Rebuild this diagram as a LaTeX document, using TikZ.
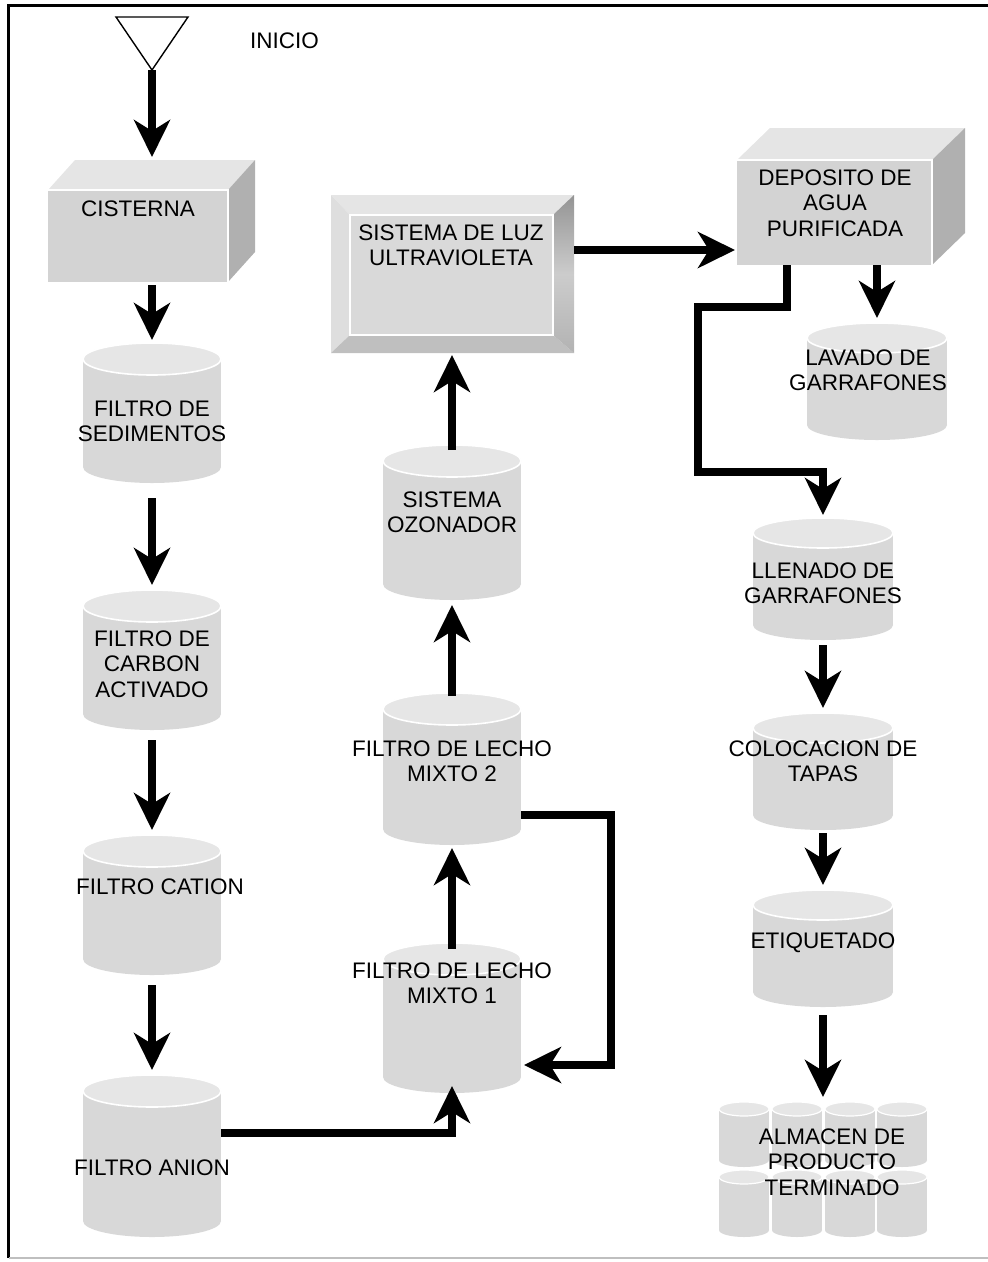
\documentclass[tikz,border=0pt]{standalone}
\usepackage{fontspec}
\setmainfont{Liberation Sans}
\usetikzlibrary{arrows.meta,calc}

\definecolor{tankbody}{HTML}{D8D8D8}
\definecolor{tanklid}{HTML}{E6E6E6}
\definecolor{boxfront}{HTML}{D3D3D3}
\definecolor{boxtop}{HTML}{E5E5E5}
\definecolor{boxside}{HTML}{B0B0B0}

\tikzset{
  flow/.style={line width=7.5pt, shorten >=3pt,
    -{Stealth[length=37pt,width=36pt,inset=11pt]}},
  hit/.style={inner sep=0pt, outer sep=0pt, draw=none},
  lbl/.style={align=center, inner sep=0pt,
    font=\fontsize{22.5}{25.5}\selectfont},
  bodyfill/.style={fill=tankbody},
  lidfill/.style={fill=tanklid, draw=white, line width=1.6pt},
}

% tank: name, centre x, top y, bottom y, half width, half height of the lid
\newcommand\tank[6]{%
  \fill[bodyfill] ({#2-#5},{#3+#6}) rectangle ({#2+#5},{#4-#6});
  \fill[bodyfill] (#2,{#4-#6}) ellipse [x radius=#5pt, y radius=#6pt];
  \filldraw[lidfill] (#2,{#3+#6}) ellipse [x radius=#5pt, y radius=#6pt];
  \pgfmathsetmacro\tankh{#4-#3}%
  \pgfmathsetmacro\tankw{2*#5}%
  \node[hit, minimum width=\tankw pt, minimum height=\tankh pt]
    (#1) at (#2,{(#3+#4)/2}) {};
}
% small tank without a node, for the stock of finished product
\newcommand\minitank[4]{%
  \fill[bodyfill] ({#1-#4},{#2+7}) rectangle ({#1+#4},{#3-7});
  \fill[bodyfill] (#1,{#3-7}) ellipse [x radius=#4pt, y radius=7pt];
  \filldraw[lidfill, line width=1.2pt] (#1,{#2+7}) ellipse [x radius=#4pt, y radius=7pt];
}
% block: front face x1 y1 x2 y2, depth dx dy
\newcommand\block[6]{%
  \fill[boxfront] (#1,#2) rectangle (#3,#4);
  \fill[boxtop] (#1,#2) -- ++(#5,-#6) -- ({#3+#5},{#2-#6}) -- (#3,#2) -- cycle;
  \fill[boxside] (#3,#2) -- ++(#5,-#6) -- ({#3+#5},{#4-#6}) -- (#3,#4) -- cycle;
  \draw[white, line width=1.4pt] (#1,#2) -- (#3,#2) -- (#3,#4);
}

\begin{document}
\begin{tikzpicture}[x=1pt, y=-1pt]
\useasboundingbox (0,0) rectangle (988,1262);

% frame
\draw[line width=3pt] (988,5) -- (8,5) -- (8,1258);
\draw[black!25, line width=1.5pt] (9,1258) -- (988,1258);

% start symbol
\draw[line width=1.4pt, line join=miter] (116,17) -- (188,17) -- (152,70) -- cycle;
\coordinate (start) at (152,70);
\node[lbl, anchor=west] (inicio) at (250,41) {INICIO};

% storage tank block
\block{48}{190}{228}{282}{27}{30}
\node[hit, minimum width=208pt, minimum height=122pt] (cis) at (152,221) {};
\node[lbl] (cis-t) at (138,209) {CISTERNA};

% left column of filters
\tank{sed}{152}{343}{483}{69}{16}
\node[lbl] (sed-t) at (152,421) {FILTRO DE\\SEDIMENTOS};
\tank{car}{152}{590}{730}{69}{16}
\node[lbl] (car-t) at (152,664) {FILTRO DE\\CARBON\\ACTIVADO};
\tank{cat}{152}{835}{975}{69}{16}
\node[lbl] (cat-t) at (160,887) {FILTRO CATION};
\tank{ani}{152}{1075}{1237}{69}{16}
\node[lbl] (ani-t) at (152,1168) {FILTRO ANION};

% middle column
\tank{mx1}{452}{943}{1093}{69}{16}
\node[lbl] (mx1-t) at (452,983) {FILTRO DE LECHO\\MIXTO 1};
\tank{mx2}{452}{693}{845}{69}{16}
\node[lbl] (mx2-t) at (452,761) {FILTRO DE LECHO\\MIXTO 2};
\tank{ozo}{452}{445}{600}{69}{16}
\node[lbl] (ozo-t) at (452,512) {SISTEMA\\OZONADOR};

% ultraviolet unit, bevelled panel
\fill[black!10] (331,195) -- (574,195) -- (553,215) -- (350,215) -- cycle;
\fill[black!13] (331,195) -- (350,215) -- (350,335) -- (331,353) -- cycle;
\fill[black!25] (331,353) -- (350,335) -- (553,335) -- (574,353) -- cycle;
\shade[top color=black!42, bottom color=black!30, middle color=black!20]
  (574,195) -- (553,215) -- (553,335) -- (574,353) -- cycle;
\filldraw[fill=black!15, draw=white, line width=1.6pt] (350,215) rectangle (553,335);
\node[hit, minimum width=244pt, minimum height=158pt] (uv) at (452,274) {};
\node[lbl] (uv-t) at (451,245) {SISTEMA DE LUZ\\ULTRAVIOLETA};

% purified water block
\block{737}{160}{932}{265}{33}{32}
\node[hit, minimum width=228pt, minimum height=137pt] (dep) at (851,196.5) {};
\node[lbl] (dep-t) at (835,203) {DEPOSITO DE\\AGUA\\PURIFICADA};

% right column
\tank{lav}{877}{323}{440}{70}{15}
\node[lbl] (lav-t) at (868,370) {LAVADO DE\\GARRAFONES};
\tank{lle}{823}{518}{640}{70}{15}
\node[lbl] (lle-t) at (823,583) {LLENADO DE\\GARRAFONES};
\tank{col}{823}{713}{830}{70}{15}
\node[lbl] (col-t) at (823,761) {COLOCACION DE\\TAPAS};
\tank{eti}{823}{890}{1007}{70}{15}
\node[lbl] (eti-t) at (823,943) {ETIQUETADO};

% stock of finished product
\foreach \cx in {744,797,850,902} {
  \minitank{\cx}{1102}{1167}{25}
  \minitank{\cx}{1170}{1237}{25}
}
\node[hit, minimum width=210pt, minimum height=135pt] (alm) at (823,1169.5) {};
\node[lbl] (alm-t) at (832,1162) {ALMACEN DE\\PRODUCTO\\TERMINADO};

% flow
\draw[flow] (start) -- (cis.north);
\draw[flow, shorten <=3pt] (cis.south) -- (sed.north);
\draw[flow, shorten <=15pt, shorten >=5pt] (sed.south) -- (car.north);
\draw[flow, shorten <=10pt, shorten >=5pt] (car.south) -- (cat.north);
\draw[flow, shorten <=10pt, shorten >=5pt] (cat.south) -- (ani.north);
\draw[flow, shorten >=-7pt] ([yshift=23pt]ani.east) -| (mx1.south);
\draw[flow, shorten <=-6pt] (mx1.north) -- (mx2.south);
\draw[flow] ([yshift=-46pt]mx2.east) -- ++(90,0) |- ([yshift=-47pt]mx1.east);
\draw[flow, shorten <=-3pt, shorten >=5pt] (mx2.north) -- (ozo.south);
\draw[flow, shorten <=-5pt, shorten >=2pt] (ozo.north) -- (uv.south);
\draw[flow, shorten >=2pt] ([yshift=24pt]uv.east) -- ([yshift=24pt]uv.east -| dep.west);
\draw[flow, shorten >=5pt] (lav.north |- dep.south) -- (lav.north);
\draw[flow] ([xshift=-64pt]dep.south) -- ++(0,42) -- ++(-89,0) -- ++(0,165) -| (lle.north);
\draw[flow, shorten <=5pt, shorten >=5pt] (lle.south) -- (col.north);
\draw[flow, shorten <=3pt, shorten >=5pt] (col.south) -- (eti.north);
\draw[flow, shorten <=8pt, shorten >=5pt] (eti.south) -- (alm.north);
\end{tikzpicture}
\end{document}
